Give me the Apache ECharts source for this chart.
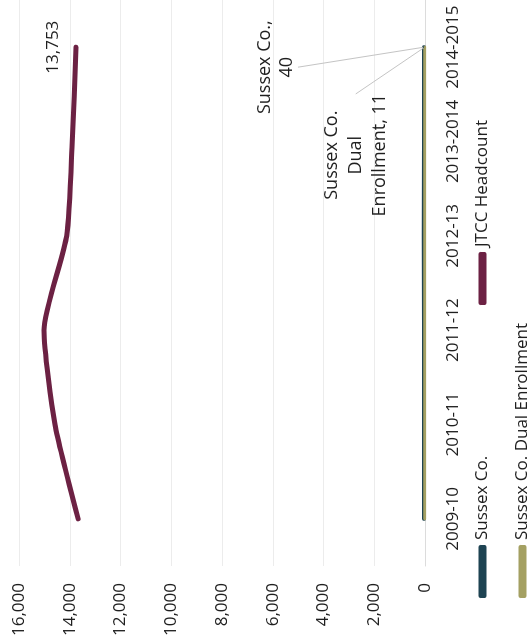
<!DOCTYPE html>
<html>
<head>
<meta charset="utf-8">
<script src="https://cdn.jsdelivr.net/npm/echarts@6/dist/echarts.min.js"></script>
<style>
  html, body { margin: 0; padding: 0; background: #fff; overflow: hidden; }
  #page { position: relative; width: 532px; height: 641px; overflow: hidden; }
  /* chart is laid out landscape, then turned a quarter turn counter-clockwise */
  #chart {
    position: absolute; left: 0; top: 0;
    width: 641px; height: 532px;
    transform-origin: 0 0;
    transform: translate(0, 641px) rotate(-90deg);
  }
</style>
</head>
<body>
<div id="page"><div id="chart"></div></div>
<script>
// School years on the category axis
const years = ['2009-10', '2010-11', '2011-12', '2012-13', '2013-2014', '2014-2015'];

// Enrollment counts per year
const sussexCo = [35, 42, 38, 45, 41, 40];
const sussexDual = [9, 14, 12, 10, 13, 11];
const jtccHeadcount = [13670, 14580, 15010, 14120, 13900, 13753];

// Value axis range
const valueMin = 0;
const valueMax = 16000;
const valueStep = 2000;

const FONT = '"Open Sans", "DejaVu Sans", sans-serif';
const TEXT = '#1f1f1f';
const C_SUSSEX = '#1e4352';
const C_DUAL = '#a4a062';
const C_JTCC = '#6c2143';

const fmt = v => Number(v).toLocaleString('en-US');
const last = years.length - 1;
const withLastLabel = arr => arr.map((v, i) => i === last ? { value: v, label: { show: true } } : v);
// only the labelled end point keeps a (tiny) symbol so the guide line has an anchor
const endSymbolSize = (v, p) => (p.dataIndex === last ? 2 : 0);

const chart = echarts.init(document.getElementById('chart'), null, { renderer: 'canvas' });

const legendText = { fontFamily: FONT, fontSize: 17, color: TEXT };
const legendBase = {
  orient: 'horizontal', icon: 'roundRect', itemWidth: 53, itemHeight: 8,
  textStyle: legendText, selectedMode: false, padding: 0
};

chart.setOption({
  animation: false,
  backgroundColor: '#fff',
  grid: { left: 75, right: -6, top: 19, bottom: 107, containLabel: false },
  legend: [
    Object.assign({}, legendBase, { data: ['Sussex Co.'], left: 43, top: 474 }),
    Object.assign({}, legendBase, { data: ['JTCC Headcount'], left: 336, top: 474 }),
    Object.assign({}, legendBase, { data: ['Sussex Co. Dual Enrollment'], left: 43, top: 514 })
  ],
  xAxis: {
    type: 'category',
    data: years,
    boundaryGap: true,
    axisTick: { show: false },
    axisLine: { show: true, lineStyle: { color: '#dcdcdc', width: 1 } },
    axisLabel: { fontFamily: FONT, fontSize: 17, color: TEXT, margin: 20, interval: 0 }
  },
  yAxis: {
    type: 'value',
    min: valueMin, max: valueMax, interval: valueStep,
    axisLine: { show: false },
    axisTick: { show: false },
    splitLine: { lineStyle: { color: '#ececec', width: 1 } },
    axisLabel: { fontFamily: FONT, fontSize: 17, color: TEXT, margin: 17, formatter: fmt }
  },
  series: [
    {
      name: 'Sussex Co.',
      type: 'line',
      data: withLastLabel(sussexCo),
      symbol: 'circle', symbolSize: endSymbolSize, showSymbol: true,
      itemStyle: { color: C_SUSSEX },
      lineStyle: { color: C_SUSSEX, width: 4, cap: 'round', join: 'round' },
      label: {
        show: false, position: 'inside', align: 'center',
        fontFamily: FONT, fontSize: 18, color: TEXT, lineHeight: 22,
        formatter: p => p.seriesName + ',\n' + fmt(p.value)
      },
      labelLayout: { dx: -20, dy: -148 },
      labelLine: { show: true, lineStyle: { color: '#c4c4c4', width: 1 } }
    },
    {
      name: 'Sussex Co. Dual Enrollment',
      type: 'line',
      data: withLastLabel(sussexDual),
      symbol: 'circle', symbolSize: endSymbolSize, showSymbol: true,
      itemStyle: { color: C_DUAL },
      lineStyle: { color: C_DUAL, width: 3, cap: 'round', join: 'round' },
      label: {
        show: false, position: 'inside', align: 'center',
        fontFamily: FONT, fontSize: 18, color: TEXT, lineHeight: 24,
        formatter: p => p.seriesName.replace(' Dual Enrollment', '\nDual\nEnrollment') + ', ' + fmt(p.value)
      },
      labelLayout: { dx: -108, dy: -69 },
      labelLine: { show: true, lineStyle: { color: '#c4c4c4', width: 1 } }
    },
    {
      name: 'JTCC Headcount',
      type: 'line',
      data: withLastLabel(jtccHeadcount),
      smooth: 0.2,
      symbol: 'circle', symbolSize: 0, showSymbol: true,
      itemStyle: { color: C_JTCC },
      lineStyle: { color: C_JTCC, width: 5, cap: 'round', join: 'round' },
      label: {
        show: false, position: 'top', distance: 14,
        fontFamily: FONT, fontSize: 17, color: TEXT,
        formatter: p => fmt(p.value)
      }
    }
  ]
});
</script>
</body>
</html>
